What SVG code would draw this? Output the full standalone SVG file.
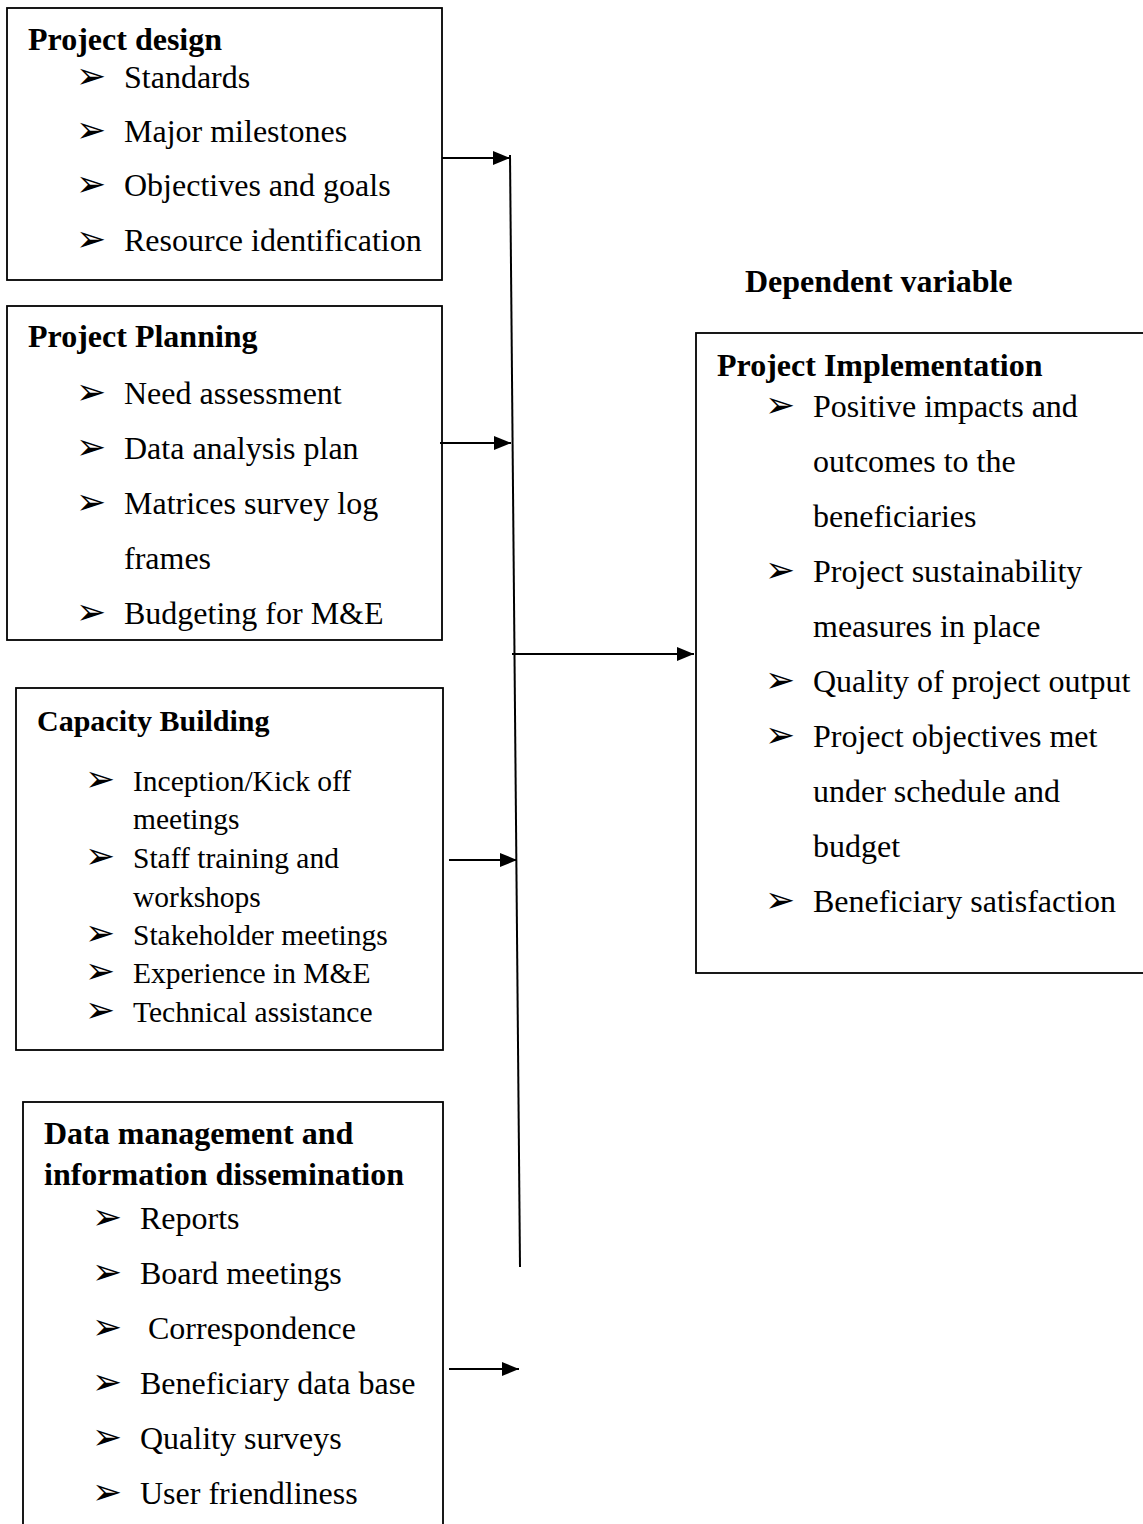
<svg xmlns="http://www.w3.org/2000/svg" width="1143" height="1524" viewBox="0 0 1143 1524">
<style>
.box{fill:#fff;stroke:#000;stroke-width:1.8}
.t{font-family:"Liberation Serif","Times New Roman",serif;font-weight:bold;font-size:32px;fill:#000}
.tb{font-family:"Liberation Serif","Times New Roman",serif;font-weight:bold;font-size:30px;fill:#000}
.i{font-family:"Liberation Serif","Times New Roman",serif;font-size:32px;fill:#000}
.s{font-family:"Liberation Serif","Times New Roman",serif;font-size:29.5px;fill:#000}
.b{font-family:"DejaVu Sans",sans-serif;font-size:36px;fill:#000}
.c{stroke:#000;stroke-width:2;fill:none}
</style>
<defs>
<marker id="ah" markerWidth="17" markerHeight="14" refX="17" refY="7" orient="auto" markerUnits="userSpaceOnUse">
<path d="M0,0 L17,7 L0,14 Z" fill="#000"/>
</marker>
</defs>
<rect width="1143" height="1524" fill="#fff"/>

<g id="project-design">
<rect class="box" x="7" y="8" width="435" height="272"/>
<text class="t" x="28" y="50">Project design</text>
<text class="b" x="76" y="88">➢</text><text class="i" x="124" y="88">Standards</text>
<text class="b" x="76" y="142">➢</text><text class="i" x="124" y="142">Major milestones</text>
<text class="b" x="76" y="196">➢</text><text class="i" x="124" y="196">Objectives and goals</text>
<text class="b" x="76" y="251">➢</text><text class="i" x="124" y="251">Resource identification</text>
</g>

<g id="project-planning">
<rect class="box" x="7" y="306" width="435" height="334"/>
<text class="t" x="28" y="347">Project Planning</text>
<text class="b" x="76" y="404">➢</text><text class="i" x="124" y="404">Need assessment</text>
<text class="b" x="76" y="459">➢</text><text class="i" x="124" y="459">Data analysis plan</text>
<text class="b" x="76" y="514">➢</text><text class="i" x="124" y="514">Matrices survey log</text>
<text class="i" x="124" y="569">frames</text>
<text class="b" x="76" y="624">➢</text><text class="i" x="124" y="624">Budgeting for M&amp;E</text>
</g>

<g id="capacity-building">
<rect class="box" x="16" y="688" width="427" height="362"/>
<text class="tb" x="37" y="731">Capacity Building</text>
<text class="b" x="85" y="791">➢</text><text class="s" x="133" y="791">Inception/Kick off</text>
<text class="s" x="133" y="829">meetings</text>
<text class="b" x="85" y="868">➢</text><text class="s" x="133" y="868">Staff training and</text>
<text class="s" x="133" y="907">workshops</text>
<text class="b" x="85" y="945">➢</text><text class="s" x="133" y="945">Stakeholder meetings</text>
<text class="b" x="85" y="983">➢</text><text class="s" x="133" y="983">Experience in M&amp;E</text>
<text class="b" x="85" y="1022">➢</text><text class="s" x="133" y="1022">Technical assistance</text>
</g>

<g id="data-management">
<rect class="box" x="23" y="1102" width="420" height="440"/>
<text class="t" x="44" y="1144">Data management and</text>
<text class="t" x="44" y="1185">information dissemination</text>
<text class="b" x="92" y="1229">➢</text><text class="i" x="140" y="1229">Reports</text>
<text class="b" x="92" y="1284">➢</text><text class="i" x="140" y="1284">Board meetings</text>
<text class="b" x="92" y="1339">➢</text><text class="i" x="148" y="1339">Correspondence</text>
<text class="b" x="92" y="1394">➢</text><text class="i" x="140" y="1394">Beneficiary data base</text>
<text class="b" x="92" y="1449">➢</text><text class="i" x="140" y="1449">Quality surveys</text>
<text class="b" x="92" y="1504">➢</text><text class="i" x="140" y="1504">User friendliness</text>
</g>

<g id="dependent-label">
<text class="t" x="745" y="292">Dependent variable</text>
</g>

<g id="project-implementation">
<rect class="box" x="696" y="333" width="460" height="640"/>
<text class="t" x="717" y="376">Project Implementation</text>
<text class="b" x="765" y="417">➢</text><text class="i" x="813" y="417">Positive impacts and</text>
<text class="i" x="813" y="472">outcomes to the</text>
<text class="i" x="813" y="527">beneficiaries</text>
<text class="b" x="765" y="582">➢</text><text class="i" x="813" y="582">Project sustainability</text>
<text class="i" x="813" y="637">measures in place</text>
<text class="b" x="765" y="692">➢</text><text class="i" x="813" y="692">Quality of project output</text>
<text class="b" x="765" y="747">➢</text><text class="i" x="813" y="747">Project objectives met</text>
<text class="i" x="813" y="802">under schedule and</text>
<text class="i" x="813" y="857">budget</text>
<text class="b" x="765" y="912">➢</text><text class="i" x="813" y="912">Beneficiary satisfaction</text>
</g>

<g id="connectors">
<line class="c" x1="510" y1="155" x2="520" y2="1267"/>
<line class="c" x1="442" y1="158" x2="510" y2="158" marker-end="url(#ah)"/>
<line class="c" x1="440" y1="443" x2="511" y2="443" marker-end="url(#ah)"/>
<line class="c" x1="449" y1="860" x2="517" y2="860" marker-end="url(#ah)"/>
<line class="c" x1="449" y1="1369" x2="519" y2="1369" marker-end="url(#ah)"/>
<line class="c" x1="512" y1="654" x2="694" y2="654" marker-end="url(#ah)"/>
</g>
</svg>
